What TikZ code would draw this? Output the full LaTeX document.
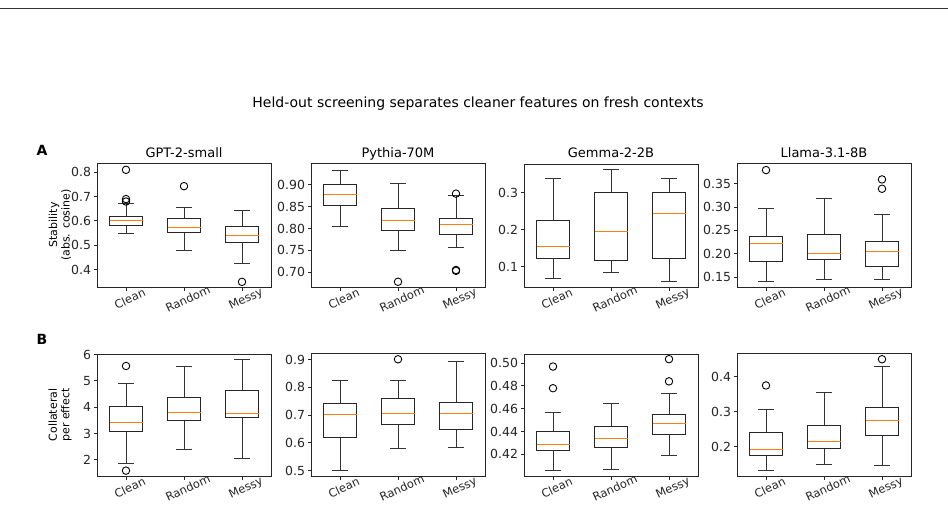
\documentclass[tikz,border=0pt]{standalone}
\usepackage{fontspec}
\setmainfont{DejaVu Sans}
\definecolor{mplorange}{HTML}{FF7F0E}
\tikzset{
  panel/.code n args={5}{%
    \pgfmathsetmacro\k{#5/(#4-#3)}%
    \pgfmathsetmacro\b{515-#2-#3*\k}%
    \tikzset{shift={(#1pt,\b pt)}, y={(0pt,\k pt)}}},
  frame/.style={line width=1pt, black!85},
  whisk/.style={line width=1pt, black!80},
  box/.style={line width=1pt, black!85},
  med/.style={line width=1pt, mplorange},
  outl/.style={circle, draw=black, line width=0.9pt, inner sep=0pt, minimum size=7.5pt},
  ticklab/.style={font=\fontsize{12.5}{14}\selectfont, left, inner sep=2pt},
  catlab/.style={font=\fontsize{11.5}{13}\selectfont, rotate=25, anchor=north, inner sep=1pt},
  ptitle/.style={font=\fontsize{13}{15}\selectfont, anchor=base},
  ylab/.style={font=\fontsize{11}{12.5}\selectfont, rotate=90, align=center}
}
% box: x, low whisker, q1, median, q3, high whisker
\newcommand{\bx}[6]{%
  \draw[whisk] (#1,#2) -- (#1,#3) (#1,#5) -- (#1,#6);
  \draw[whisk] (#1-8,#2) -- (#1+8,#2) (#1-8,#6) -- (#1+8,#6);
  \draw[box] (#1-16.5,#3) rectangle (#1+16.5,#5);
  \draw[med] (#1-16.5,#4) -- (#1+16.5,#4);}
% axes: ymin, ymax
\newcommand{\axes}[2]{%
  \draw[frame] (0,#1) rectangle (174,#2);
  \foreach \c/\n in {29/Clean,87/Random,145/Messy}
    \draw[frame] (\c,#1) -- ++(0,-3.5pt) node[catlab, yshift=-3pt] {\n};}
\newcommand{\yticks}[1]{%
  \foreach \t in {#1} \draw[frame] (0,\t) -- ++(-3.5,0) node[ticklab] {\t};}
\begin{document}
\begin{tikzpicture}[x=1pt, y=1pt]
  \useasboundingbox (0,0) rectangle (948,515);
  \draw[black!80, line width=0.8pt] (0,507) -- (948,507);
  \node[font=\fontsize{14}{16}\selectfont] (title) at (478,411) {Held-out screening separates cleaner features on fresh contexts};
  \node[font=\bfseries\fontsize{14}{16}\selectfont] (lblA) at (42,365) {A};
  \node[font=\bfseries\fontsize{14}{16}\selectfont] (lblB) at (42,176) {B};
  \node[ylab] (ylA) at (60,290) {Stability\\(abs. cosine)};
  \node[ylab] (ylB) at (60,100) {Collateral\\per effect};

  %% row A
  \begin{scope}[panel={97}{287}{0.329}{0.834}{123}]
    \axes{0.329}{0.834}
    \yticks{0.4,0.5,0.6,0.7,0.8}
    \node[ptitle] at (87,0.834+0.025) {GPT-2-small};
    \bx{29}{0.55}{0.583}{0.603}{0.62}{0.673}
    \bx{87}{0.48}{0.553}{0.572}{0.612}{0.655}
    \bx{145}{0.425}{0.51}{0.542}{0.578}{0.642}
    \foreach \v in {0.68,0.69,0.81} \node[outl] at (29,\v) {};
    \node[outl] at (87,0.743) {};
    \node[outl] at (145,0.35) {};
  \end{scope}
  \begin{scope}[panel={311}{287}{0.666}{0.948}{123}]
    \axes{0.666}{0.948}
    \yticks{0.70,0.75,0.80,0.85,0.90}
    \node[ptitle] at (87,0.948+0.014) {Pythia-70M};
    \bx{29}{0.805}{0.852}{0.878}{0.902}{0.932}
    \bx{87}{0.75}{0.795}{0.819}{0.845}{0.903}
    \bx{145}{0.756}{0.787}{0.809}{0.823}{0.875}
    \node[outl] at (87,0.678) {};
    \foreach \v in {0.88,0.705,0.703} \node[outl] at (145,\v) {};
  \end{scope}
  \begin{scope}[panel={524}{287}{0.046}{0.377}{123}]
    \axes{0.046}{0.377}
    \yticks{0.1,0.2,0.3}
    \node[ptitle] at (87,0.377+0.017) {Gemma-2-2B};
    \bx{29}{0.069}{0.123}{0.156}{0.226}{0.338}
    \bx{87}{0.085}{0.116}{0.196}{0.299}{0.361}
    \bx{145}{0.061}{0.122}{0.245}{0.3}{0.337}
  \end{scope}
  \begin{scope}[panel={737}{287}{0.129}{0.392}{123}]
    \axes{0.129}{0.392}
    \yticks{0.15,0.20,0.25,0.30,0.35}
    \node[ptitle] at (87,0.392+0.013) {Llama-3.1-8B};
    \bx{29}{0.141}{0.184}{0.222}{0.238}{0.297}
    \bx{87}{0.144}{0.188}{0.200}{0.241}{0.319}
    \bx{145}{0.146}{0.173}{0.204}{0.226}{0.284}
    \node[outl] at (29,0.379) {};
    \foreach \v in {0.359,0.339} \node[outl] at (145,\v) {};
  \end{scope}

  %% row B
  \begin{scope}[panel={97}{476}{1.392}{6.025}{122}]
    \axes{1.392}{6.025}
    \yticks{2,3,4,5,6}
    \bx{29}{1.848}{3.089}{3.418}{4.025}{4.886}
    \bx{87}{2.405}{3.494}{3.81}{4.367}{5.544}
    \bx{145}{2.063}{3.595}{3.747}{4.62}{5.823}
    \foreach \v in {5.57,1.595} \node[outl] at (29,\v) {};
  \end{scope}
  \begin{scope}[panel={311}{476}{0.481}{0.920}{122}]
    \axes{0.481}{0.920}
    \yticks{0.5,0.6,0.7,0.8,0.9}
    \bx{29}{0.5}{0.620}{0.702}{0.743}{0.824}
    \bx{87}{0.579}{0.667}{0.707}{0.761}{0.823}
    \bx{145}{0.583}{0.648}{0.705}{0.746}{0.893}
    \node[outl] at (87,0.901) {};
  \end{scope}
  \begin{scope}[panel={524}{476}{0.401}{0.508}{122}]
    \axes{0.401}{0.508}
    \yticks{0.42,0.44,0.46,0.48,0.50}
    \bx{29}{0.406}{0.423}{0.429}{0.440}{0.457}
    \bx{87}{0.407}{0.426}{0.434}{0.444}{0.465}
    \bx{145}{0.419}{0.437}{0.447}{0.455}{0.473}
    \foreach \v in {0.497,0.478} \node[outl] at (29,\v) {};
    \foreach \v in {0.5035,0.484} \node[outl] at (145,\v) {};
  \end{scope}
  \begin{scope}[panel={737}{476}{0.116}{0.465}{122}]
    \axes{0.116}{0.465}
    \yticks{0.2,0.3,0.4}
    \bx{29}{0.131}{0.175}{0.192}{0.24}{0.305}
    \bx{87}{0.148}{0.195}{0.215}{0.26}{0.355}
    \bx{145}{0.147}{0.231}{0.274}{0.312}{0.43}
    \node[outl] at (29,0.375) {};
    \node[outl] at (145,0.45) {};
  \end{scope}
\end{tikzpicture}
\end{document}
